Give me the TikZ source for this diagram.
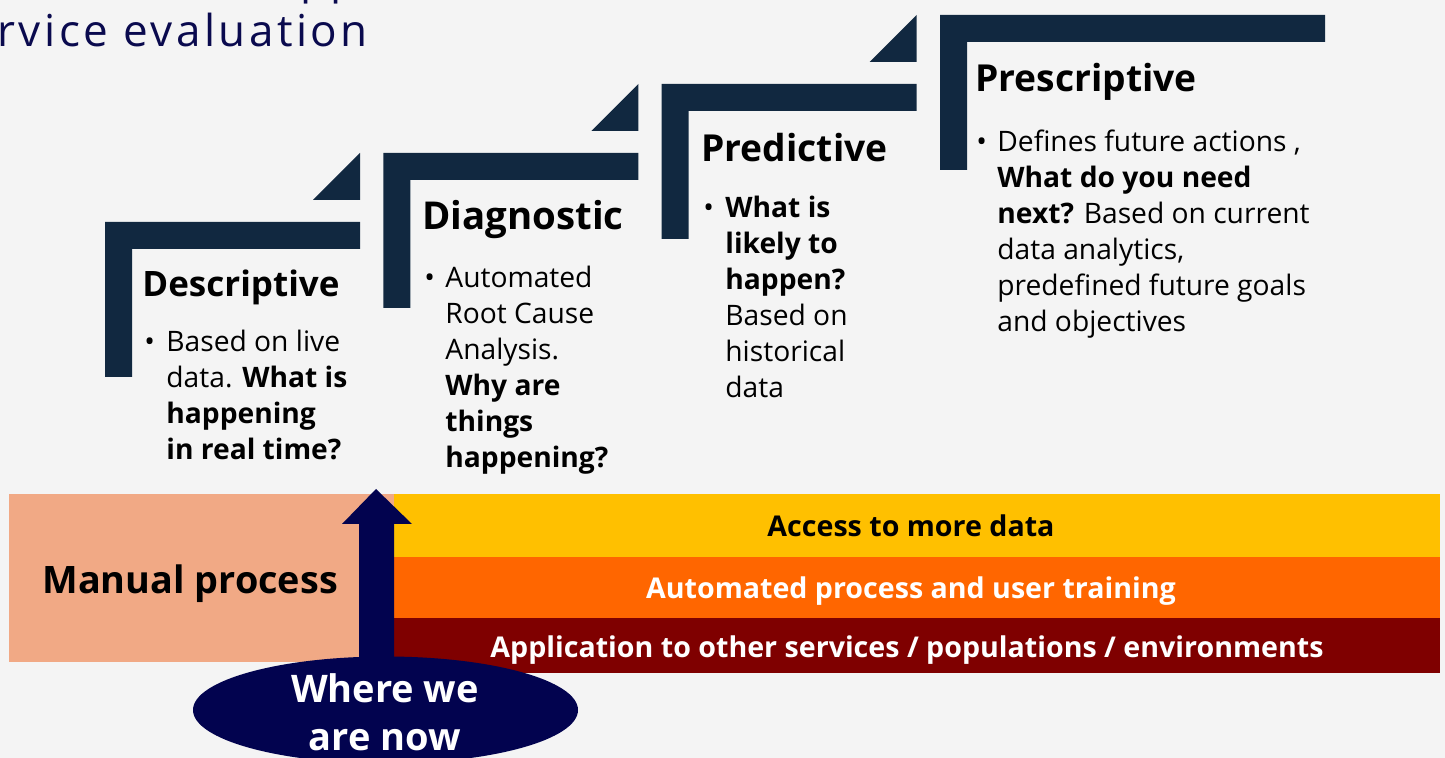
\documentclass[tikz,border=0pt]{standalone}
\usepackage{fontspec}
\setmainfont{Open Sans}
\newfontfamily\titlefont[LetterSpace=8]{Open Sans}
\usetikzlibrary{shapes.geometric}
\definecolor{bgc}{HTML}{F4F4F4}
\definecolor{stepc}{HTML}{112840}
\definecolor{salmon}{HTML}{F1A985}
\definecolor{yell}{HTML}{FFC000}
\definecolor{oran}{HTML}{FF6600}
\definecolor{dred}{HTML}{7F0000}
\definecolor{navy}{HTML}{02034F}
\definecolor{titlec}{HTML}{0A0A4E}
\begin{document}
\begin{tikzpicture}[x=0.5pt,y=-0.5pt,
  head/.style={anchor=base west, inner sep=0pt, font=\fontsize{18.6}{22}\selectfont\bfseries},
  body/.style={anchor=base west, inner sep=0pt, align=left, font=\fontsize{14.1}{18}\selectfont},
  bul/.style={anchor=base west, inner sep=0pt, font=\fontsize{14.1}{18}\selectfont},
  band/.style={anchor=base, inner sep=0pt, font=\fontsize{14.3}{17}\selectfont\bfseries}]
\useasboundingbox (0,0) rectangle (1445,758);
\fill[bgc] (0,0) rectangle (1445,758);
% title fragments
\node[anchor=base west, inner sep=0pt, text=titlec, font=\titlefont\fontsize{22}{26}\selectfont] (title) at (-3,47) {rvice evaluation};
\node[anchor=base west, inner sep=0pt, text=titlec, font=\titlefont\fontsize{22}{26}\selectfont] (titleup) at (300,-6) {pp};
% steps
\foreach \i/\w in {0/255,1/255,2/255,3/385} {
  \pgfmathsetmacro\sx{105+278.33*\i}
  \pgfmathsetmacro\sy{222-69*\i}
  \fill[stepc] (\sx,\sy) -- ++(\w,0) -- ++(0,27) -- ++(-\w+27,0) -- ++(0,128) -- ++(-27,0) -- cycle;
}
\foreach \i in {0,1,2} {
  \pgfmathsetmacro\sx{105+278.33*\i}
  \pgfmathsetmacro\sy{222-69*\i}
  \fill[stepc] (\sx+255,\sy-22) -- (\sx+255,\sy-69) -- (\sx+208,\sy-22) -- cycle;
}
% step texts (base anchor of a multi-line node = last line)
\node[head, font=\fontsize{17.5}{22}\selectfont\bfseries] (h1) at (142,297) {Descriptive};
\node[bul] (b1) at (144,352) {•};
\node[body] (t1) at (166,460) {Based on live\\data. \textbf{What is}\\\textbf{happening}\\\textbf{in real time?}};
\node[head, font=\fontsize{19.2}{22}\selectfont\bfseries] (h2) at (422,230) {Diagnostic};
\node[bul] (b2) at (424,288) {•};
\node[body] (t2) at (445,468) {Automated\\Root Cause\\Analysis.\\\textbf{Why are}\\\textbf{things}\\\textbf{happening?}};
\node[head] (h3) at (701,162) {Predictive};
\node[bul] (b3) at (703,218) {•};
\node[body] (t3) at (725,398) {\textbf{What is}\\\textbf{likely to}\\\textbf{happen?}\\Based on\\historical\\data};
\node[head] (h4) at (975,92) {Prescriptive};
\node[bul] (b4) at (976,152) {•};
\node[body] (t4) at (997,332) {Defines future actions ,\\\textbf{What do you need}\\\textbf{next?} Based on current\\data analytics,\\predefined future goals\\and objectives};
% bottom bands
\fill[salmon] (9,494) rectangle (396,662);
\fill[yell] (394,494) rectangle (1440,557);
\fill[oran] (394,557) rectangle (1440,618);
\fill[dred] (394,618) rectangle (1440,673);
\node[anchor=base west, inner sep=0pt, font=\fontsize{18.9}{24}\selectfont\bfseries] (manual) at (42,593) {Manual process};
\node[band] (acc) at (911,537) {Access to more data};
\node[band, text=white] (auto) at (911,598) {Automated process and user training};
\node[band, text=white] (app) at (907,657) {Application to other services / populations / environments};
% arrow and ellipse
\node[ellipse, fill=navy, minimum width=192.5pt, minimum height=53.5pt, inner sep=0pt] (now) at (385.5,710) {};
\fill[navy] (359,700) -- (359,524) -- (342,524) -- (376,489) -- (412,524) -- (394,524) -- (394,700) -- cycle;
\node[anchor=base, inner sep=0pt, text=white, align=center, font=\fontsize{19}{24}\selectfont\bfseries] (nowt) at (385,750) {Where we\\are now};
\end{tikzpicture}
\end{document}
